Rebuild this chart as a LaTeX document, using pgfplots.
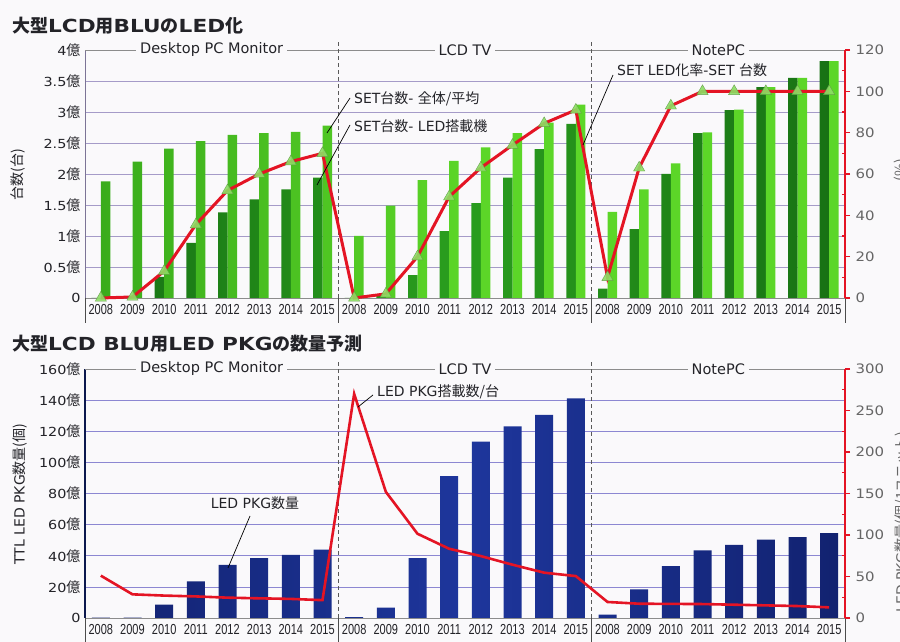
\documentclass[border=0pt]{standalone}
\usepackage{fontspec}
\setmainfont{Liberation Sans}
\newfontfamily\cjk{Noto Sans CJK JP}
\newfontfamily\dv{DejaVu Sans}
\newfontfamily\dvw[FakeStretch=1.15]{DejaVu Sans}
\newfontfamily\narrow[FakeStretch=0.76]{Liberation Sans}
\newfontfamily\ttl[FakeStretch=1.2]{DejaVu Sans}
\usepackage{pgfplots}
\usepackage{pgfplotstable}
\pgfplotsset{compat=1.18}

\definecolor{bg}{RGB}{250,249,251}
\definecolor{lgreen}{RGB}{92,214,40}
\definecolor{lgreenE}{RGB}{58,172,28}
\definecolor{dgreen}{RGB}{42,158,30}
\definecolor{dgreenE}{RGB}{24,114,20}
\definecolor{navy}{RGB}{30,54,156}
\definecolor{navyE}{RGB}{18,34,112}
\definecolor{redl}{RGB}{228,20,36}
\definecolor{gridT}{RGB}{165,155,200}
\definecolor{gridB}{RGB}{140,135,210}
\definecolor{tri}{RGB}{140,222,100}
\definecolor{txt}{RGB}{35,35,40}

\newcommand\oku{{\cjk\fontsize{14}{14}\selectfont 億}}

% top panel: total sets, LED sets (100M units), LED rate (%)
\pgfplotstableread{
x tot led rate
0 1.88 0 0
1 2.20 0 0.5
2 2.41 0.34 13
3 2.53 0.89 35.5
4 2.63 1.38 52
5 2.66 1.59 60
6 2.68 1.75 66
7 2.78 1.94 70
8 1.00 0 0
9 1.49 0.03 2
10 1.90 0.37 20
11 2.21 1.08 49
12 2.43 1.53 63
13 2.66 1.94 74
14 2.83 2.40 84.5
15 3.12 2.81 91
16 1.39 0.15 10
17 1.75 1.11 63
18 2.17 2.00 93
19 2.67 2.66 100
20 3.04 3.03 100
21 3.40 3.40 100
22 3.55 3.55 100
23 3.82 3.82 100
}\topdata

% bottom panel: LED PKG count (100M), LED PKG per set
\pgfplotstableread{
x pkg per
0 0.3 51
1 0.3 28.5
2 8.6 27
3 23.5 26
4 34.2 24.5
5 38.5 23.7
6 40.6 23
7 43.9 21.5
8 0.5 270
9 6.6 152
10 38.5 101.5
11 91.1 83.4
12 113.4 74.6
13 123.2 64.2
14 130.5 54.6
15 141.2 50.5
16 2.1 19.3
17 18.4 17.2
18 33.4 17
19 43.4 16.8
20 47 16
21 50.3 15.2
22 52 14.4
23 54.5 12.8
}\botdata

\pgfplotsset{
  panel/.style={
    anchor=south west, scale only axis, width=760pt,
    xmin=-0.5, xmax=23.5, clip=false,
  },
  leftax/.style={
    panel,
    axis y line*=left, axis x line*=bottom,
    x axis line style={black!45, line width=0.8pt},
    xtick={0,...,23},
    xticklabels={2008,2009,2010,2011,2012,2013,2014,2015,
                 2008,2009,2010,2011,2012,2013,2014,2015,
                 2008,2009,2010,2011,2012,2013,2014,2015},
    major tick length=0pt,
    ymajorgrids,
    xticklabel style={font=\narrow\fontsize{14.5}{15}\selectfont, text=txt, yshift=-3pt},
    yticklabel style={font=\dvw\fontsize{12.5}{14}\selectfont, text=txt, xshift=-1pt},
  },
  rightax/.style={
    panel,
    axis x line=none, axis y line*=right,
    y axis line style={redl, line width=1.8pt},
    tick align=outside, major tick length=5pt,
    major tick style={redl, line width=1.2pt},
    extra y tick style={tick align=inside, major tick length=3pt},
    yticklabel style={font=\dvw\fontsize{13}{14}\selectfont, text=black!60, xshift=2pt},
  },
}

\newcommand\sep[2]{%
  \draw[black!65, dash pattern=on 4pt off 3pt, line width=0.8pt]
    (axis cs:#1,0) -- ([yshift=8pt]axis cs:#1,#2);}
\newcommand\tickbar[1]{%
  \draw[black!70, line width=0.9pt] (axis cs:#1,0) -- ++(0pt,-25pt);}
\newcommand\grp[3]{%
  \node[fill=bg, inner xsep=4pt, inner ysep=1pt, text=txt,
        font=\dv\fontsize{14.5}{15}\selectfont] at (axis cs:#1,#2) {#3};}
\newcommand\groups[1]{%
  \draw[black!45, line width=0.8pt] (axis cs:-0.5,#1) -- (axis cs:23.5,#1);
  \sep{7.5}{#1}\sep{15.5}{#1}%
  \tickbar{-0.5}\tickbar{7.5}\tickbar{15.5}\tickbar{23.5}%
  \grp{3.5}{#1}{Desktop PC Monitor}%
  \grp{11.5}{#1}{LCD TV}%
  \grp{19.5}{#1}{NotePC}}

\begin{document}
\begin{tikzpicture}[x=1pt, y=1pt]
\fill[bg] (0pt,0pt) rectangle (900pt,642pt);

% ---------------- top panel ----------------
\begin{axis}[leftax, at={(85pt,344pt)}, height=248pt,
  ymin=0, ymax=4,
  y axis line style={gridT!75!black, line width=0.8pt},
  major grid style={gridT, line width=0.7pt},
  ytick={0,0.5,...,4},
  yticklabels={0,0.5\oku,1\oku,1.5\oku,2\oku,2.5\oku,3\oku,3.5\oku,4\oku},
]
  \addplot[ybar, bar width=9.5pt, bar shift=-4.75pt, draw=none,
    left color=dgreenE, right color=dgreenE, middle color=dgreen]
    table[x=x, y=led] {\topdata};
  \addplot[ybar, bar width=9.5pt, bar shift=4.75pt, draw=none,
    left color=lgreenE, right color=lgreen, middle color=lgreen]
    table[x=x, y=tot] {\topdata};
  \groups{4}
\end{axis}
\begin{axis}[rightax, at={(85pt,344pt)}, height=248pt,
  ymin=0, ymax=120, ytick={0,20,40,60,80,100,120},
  yticklabels={0,20,40,60,80,100,120},
  extra y ticks={10,30,50,70,90,110}, extra y tick labels={},
]
  \addplot[redl, line width=3pt, mark=triangle*, mark size=6.5pt,
    mark options={fill=tri, draw=tri!70!black, line width=0.4pt, opacity=0.9}]
    table[x=x, y=rate] {\topdata};
\end{axis}

% ---------------- bottom panel ----------------
\begin{axis}[leftax, at={(85pt,24pt)}, height=249pt,
  ymin=0, ymax=160,
  y axis line style={navyE!70!black, line width=1.6pt},
  major grid style={gridB, line width=0.7pt},
  ytick={0,20,...,160},
  yticklabels={0,20\oku,40\oku,60\oku,80\oku,100\oku,120\oku,140\oku,160\oku},
]
  \addplot[ybar, bar width=18pt, draw=none,
    left color=navyE, right color=navyE, middle color=navy]
    table[x=x, y=pkg] {\botdata};
  \groups{160}
\end{axis}
\begin{axis}[rightax, at={(85pt,24pt)}, height=249pt,
  ymin=0, ymax=300, ytick={0,50,100,150,200,250,300},
  yticklabels={0,50,100,150,200,250,300},
  extra y ticks={25,75,125,175,225,275}, extra y tick labels={},
]
  \addplot[redl, line width=2.6pt] table[x=x, y=per] {\botdata};
\end{axis}

% ---------------- titles and labels ----------------
\node[anchor=base west, inner sep=0pt, text=txt] at (12pt,609pt)
  {\cjk\bfseries\fontsize{18}{20}\selectfont 大型{\ttl\bfseries LCD}用{\ttl\bfseries BLU}の{\ttl\bfseries LED}化};
\node[anchor=base west, inner sep=0pt, text=txt] at (12pt,291pt)
  {\cjk\bfseries\fontsize{18}{20}\selectfont 大型{\ttl\bfseries LCD BLU}用{\ttl\bfseries LED PKG}の数量予測};

\node[rotate=90, text=txt, font=\cjk\fontsize{14}{15}\selectfont] at (18pt,467pt) {台数(台)};
\node[rotate=90, text=txt, font=\cjk\fontsize{14}{15}\selectfont] at (20pt,148pt) {{\dv TTL LED PKG}数量(個)};
\node[rotate=90, text=black!60, font=\cjk\fontsize{14}{15}\selectfont] at (901pt,472pt) {(\%)};
\node[rotate=90, text=black!60, font=\cjk\fontsize{14}{15}\selectfont] at (902pt,120pt) {{\dv LED PKG}数量(個/1ユニット)};

% annotations
\begin{scope}[font=\dv\fontsize{14}{15}\selectfont, text=txt]
  \node[anchor=west, inner sep=0pt] at (354pt,543pt) {SET{\cjk 台数}- {\cjk 全体/平均}};
  \node[anchor=west, inner sep=0pt] at (354pt,516pt) {SET{\cjk 台数}- LED{\cjk 搭載機}};
  \node[anchor=west, inner sep=0pt] at (617pt,572pt) {SET LED{\cjk 化率}-SET {\cjk 台数}};
  \node[anchor=center, inner sep=0pt] at (255pt,139pt) {LED PKG{\cjk 数量}};
  \node[anchor=west, inner sep=0pt] at (377pt,250pt) {LED PKG{\cjk 搭載数/台}};
  \draw[black, line width=0.7pt] (350pt,544pt) -- (327pt,509pt);
  \draw[black, line width=0.7pt] (350pt,517pt) -- (317pt,457pt);
  \draw[black, line width=0.7pt] (613pt,567pt) -- (583pt,497pt);
  \draw[black, line width=0.7pt] (250pt,126pt) -- (228pt,74pt);
  \draw[black, line width=0.7pt] (373pt,247pt) -- (358pt,235pt);
\end{scope}

\pgfresetboundingbox
\path[use as bounding box] (0pt,0pt) rectangle (900pt,642pt);
\end{tikzpicture}
\end{document}
